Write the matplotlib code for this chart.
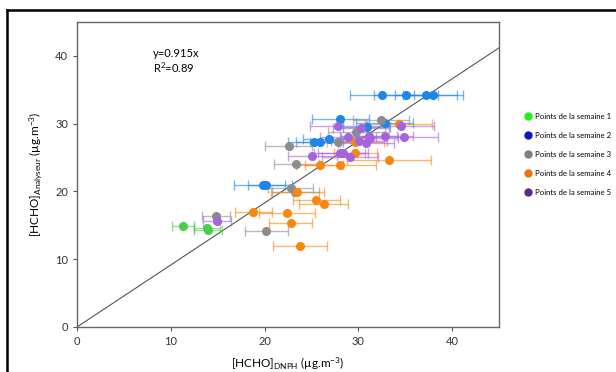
import numpy as np
import matplotlib.pyplot as plt
from matplotlib.lines import Line2D

plt.rcParams['font.family'] = ['Lato', 'DejaVu Sans']
plt.rcParams['mathtext.default'] = 'regular'

# semaine 1
x1 = [11.3, 13.9, 14.0]
y1 = [14.9, 14.6, 14.3]
e1 = [1.2, 1.4, 1.5]
# semaine 2
x2 = [32.5, 35.1, 37.2, 38.0, 28.1, 30.9, 32.8, 26.9, 25.3, 25.9, 19.8, 20.2]
y2 = [34.2, 34.2, 34.2, 34.2, 30.7, 29.5, 30.1, 27.8, 27.3, 27.3, 21.0, 21.0]
e2 = [3.4, 3.4, 3.3, 3.2, 3.0, 2.5, 3.0, 2.8, 2.8, 2.5, 3.1, 2.0]
# semaine 3
x3 = [32.4, 29.8, 27.8, 22.6, 23.4, 22.8, 23.3, 14.8, 20.2]
y3 = [30.6, 28.8, 27.3, 26.7, 24.1, 20.5, 19.9, 16.4, 14.15]
e3 = [3.0, 3.0, 3.0, 2.5, 2.4, 2.4, 2.5, 1.5, 2.3]
# semaine 4
x4 = [34.3, 29.7, 29.7, 33.3, 25.9, 28.1, 23.5, 25.5, 26.3, 18.8, 22.4, 22.8, 23.8]
y4 = [30.0, 27.3, 25.6, 24.7, 23.9, 23.9, 19.85, 18.8, 18.1, 17.0, 16.8, 15.4, 12.0]
e4 = [3.6, 3.0, 2.3, 4.5, 2.5, 3.8, 2.8, 2.5, 2.6, 2.0, 3.0, 2.3, 2.9]
# semaine 5
x5 = [27.8, 30.3, 34.5, 28.9, 31.1, 31.2, 32.8, 34.9, 30.1, 30.8, 25.1, 28.0, 28.35, 29.1, 14.9]
y5 = [29.6, 29.3, 29.6, 28.0, 28.2, 27.9, 28.2, 28.0, 27.4, 27.2, 25.2, 25.6, 25.6, 25.1, 15.6]
e5 = [3.0, 3.0, 3.6, 3.0, 3.0, 3.0, 3.0, 3.6, 3.0, 3.0, 2.6, 2.7, 2.7, 3.0, 1.5]

labels = ['Points de la semaine 1', 'Points de la semaine 2', 'Points de la semaine 3',
          'Points de la semaine 4', 'Points de la semaine 5']
pt_colors = ['#4ccc4c', '#1f86e8', '#8c8c8c', '#f7870f', '#a564dc']
leg_colors = ['#22ee22', '#0a16c8', '#7f7f7f', '#f07010', '#5a2a8a']
slope = 0.915

fig = plt.figure(figsize=(6.16, 3.72), dpi=100)
ax = fig.add_axes([0.125, 0.121, 0.685, 0.820])

series = [(x1, y1, e1), (x2, y2, e2), (x3, y3, e3), (x4, y4, e4), (x5, y5, e5)]
for (xs, ys, es), c in zip(series, pt_colors):
    ax.errorbar(xs, ys, xerr=es, fmt='none', ecolor=c, alpha=0.6, elinewidth=1,
                capsize=3.5, capthick=1, zorder=2)
    ax.plot(xs, ys, 'o', color=c, ms=5.5, zorder=3)

xx = np.array([0, 45])
ax.plot(xx, slope * xx, color='#555555', lw=0.8, zorder=1)

ax.text(8.1, 40.4, 'y=0.915x', fontsize=8, va='center')
ax.text(8.1, 38.3, 'R$^2$=0.89', fontsize=8, va='center')

ax.set_xlim(0, 45)
ax.set_ylim(0, 45)
ax.set_xticks([0, 10, 20, 30, 40])
ax.set_yticks([0, 10, 20, 30, 40])
ax.tick_params(labelsize=8, length=3, color='#555555', labelcolor='#333333',
               top=False, right=False)
for s in ax.spines.values():
    s.set_color('#666666')
    s.set_linewidth(1)

ax.set_xlabel('[HCHO]$_{DNPH}$ (µg.m$^{-3}$)', fontsize=8.5, labelpad=6)
ax.set_ylabel('[HCHO]$_{Analyseur}$ (µg.m$^{-3}$)', fontsize=8.5, labelpad=8)

handles = [Line2D([], [], marker='o', ls='none', color=c, ms=5) for c in leg_colors]
fig.legend(handles, labels, loc='upper left', bbox_to_anchor=(0.845, 0.705),
           frameon=False, fontsize=5.6, handletextpad=0.4, labelspacing=1.55,
           handlelength=1.0, borderaxespad=0)

fig.add_artist(Line2D([0.012, 0.012], [0, 0.973], color='black', lw=1.8,
                      transform=fig.transFigure))
fig.add_artist(Line2D([0.011, 1.0], [0.973, 0.973], color='black', lw=1.8,
                      transform=fig.transFigure))

fig.savefig('out.png', dpi=100)
